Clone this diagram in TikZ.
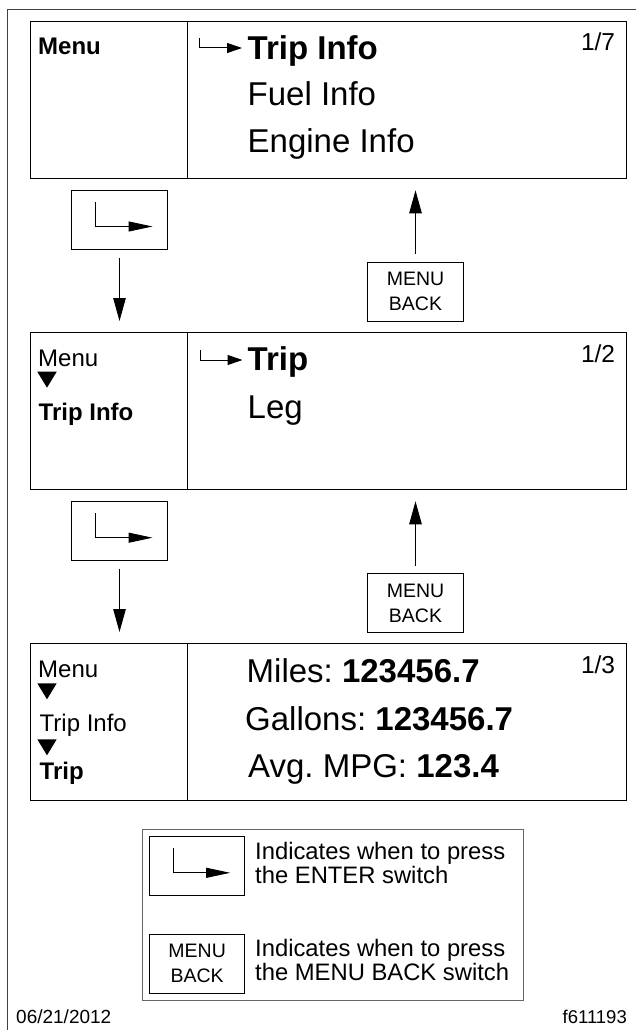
\documentclass[tikz,border=0pt]{standalone}
\usepackage{fontspec}
\setmainfont{Liberation Sans}
\usetikzlibrary{arrows.meta}
\frenchspacing

\tikzset{
  enterkey/.pic={\draw[line width=1pt, -{Triangle[length=24pt, width=10pt]}] (-24,-18) |- (33,6.5);},
  entermark/.pic={\draw[line width=1pt, -{Triangle[length=15pt, width=10pt]}] (0,-10) |- (42.5,0);},
  crumb/.pic={\fill (-9.7,0) -- (9.7,0) -- (0,16) -- cycle;},
}

\begin{document}
\begin{tikzpicture}[
  x=1pt, y=-1pt,
  frame/.style={draw=black!75, line width=1pt},
  panel/.style={draw=black, line width=1.3pt, anchor=north west, inner sep=0, minimum height=157pt},
  keybox/.style={draw=black, line width=1pt, minimum width=95.5pt, minimum height=59pt, inner sep=0, align=center, font=\fontsize{19.5}{25}\selectfont},
  flow/.style={line width=1pt, -{Triangle[length=23pt, width=12.5pt]}, shorten <=7.5pt, shorten >=11pt},
  row/.style={font=\fontsize{33}{38}\selectfont, anchor=base west, inner sep=0},
  rowb/.style={row, font=\fontsize{33}{38}\selectfont\bfseries},
  side/.style={font=\fontsize{24}{28}\selectfont, anchor=base west, inner sep=0},
  sideb/.style={side, font=\fontsize{24}{28}\selectfont\bfseries},
  pageno/.style={font=\fontsize{24.5}{28}\selectfont, anchor=base east, inner sep=0},
  note/.style={font=\fontsize{23.8}{28}\selectfont, anchor=base west, inner sep=0},
  stamp/.style={font=\fontsize{19}{22}\selectfont, anchor=base, inner sep=0},
]
  \path[use as bounding box, fill=white] (0,0) rectangle (636,1030);

  % --- sheet frame (cut at right and bottom) ---
  \draw[frame] (7,1030) |- (636,9.3);

  % --- three display screens: sidebar + main panel ---
  \foreach \top/\n/\p in {21/1/7, 332/2/2, 643/3/3}{
    \node[panel, minimum width=157pt] (s\n L) at (30,\top) {};
    \node[panel, minimum width=438.7pt] (s\n R) at (187,\top) {};
    \node[pageno] (pg\n) at ([xshift=-11.7pt, yshift=-30pt]s\n R.north east) {1/\p};
  }

  % --- screen 1 ---
  \node[sideb] (m1) at (38,55) {Menu};
  \pic at (199.5,48) {entermark};
  \node[rowb] (r11) at (247.5,59.3) {Trip Info};
  \node[row]  (r12) at (247.5,106) {Fuel Info};
  \node[row]  (r13) at (247.5,153) {Engine Info};

  % --- screen 2 ---
  \node[side]  (m2) at (38,366.7) {Menu};
  \pic at (47,371.7) {crumb};
  \node[sideb] (ti2) at (38.5,420) {Trip Info};
  \pic at (200,360) {entermark};
  \node[rowb] (r21) at (247.5,370.7) {Trip};
  \node[row]  (r22) at (247.5,418.3) {Leg};

  % --- screen 3 ---
  \node[side]  (m3) at (38,677.3) {Menu};
  \pic at (47,683.3) {crumb};
  \node[side]  (ti3) at (39.5,731.7) {Trip Info};
  \pic at (47,739.3) {crumb};
  \node[sideb] (tr3) at (39.5,779.3) {Trip};
  \node[row] (r31) at (246.5,682.7) {Miles: \textbf{123456.7}};
  \node[row] (r32) at (245,730) {Gallons: \textbf{123456.7}};
  \node[row] (r33) at (248,777.3) {Avg. MPG: \textbf{123.4}};

  % --- ENTER and MENU BACK keys between screens ---
  \node[keybox] (ent1) at (119.5,220) {};
  \pic at (ent1.center) {enterkey};
  \node[keybox] (ent2) at (119.5,531.2) {};
  \pic at (ent2.center) {enterkey};
  \node[keybox] (back1) at (415.5,291.7) {MENU\\BACK};
  \node[keybox] (back2) at (415.5,603) {MENU\\BACK};

  \draw[flow] (ent1.south) -- (ent1.south |- s2L.north);
  \draw[flow] (ent2.south) -- (ent2.south |- s3L.north);
  \draw[flow] (back1.north) -- (back1.north |- s1R.south);
  \draw[flow] (back2.north) -- (back2.north |- s2R.south);

  % --- legend ---
  \node[draw=black!60, line width=1pt, minimum width=381pt, minimum height=171pt, inner sep=0] (key) at (332.8,914.5) {};
  \node[keybox] (kent) at (197.2,866.3) {};
  \pic at (kent.center) {enterkey};
  \node[keybox] (kback) at (197.2,963.7) {MENU\\BACK};
  \node[note] (k1a) at (255,859.3) {Indicates when to press};
  \node[note] (k1b) at (255,883.3) {the ENTER switch};
  \node[note] (k2a) at (255,956) {Indicates when to press};
  \node[note] (k2b) at (255,980.7) {the MENU BACK switch};

  % --- footer ---
  \node[stamp, anchor=base west] (date) at (16,1023.3) {06/21/2012};
  \node[stamp, anchor=base east, font=\fontsize{18.5}{22}\selectfont] (fig) at (627,1023.3) {f611193};
\end{tikzpicture}
\end{document}
